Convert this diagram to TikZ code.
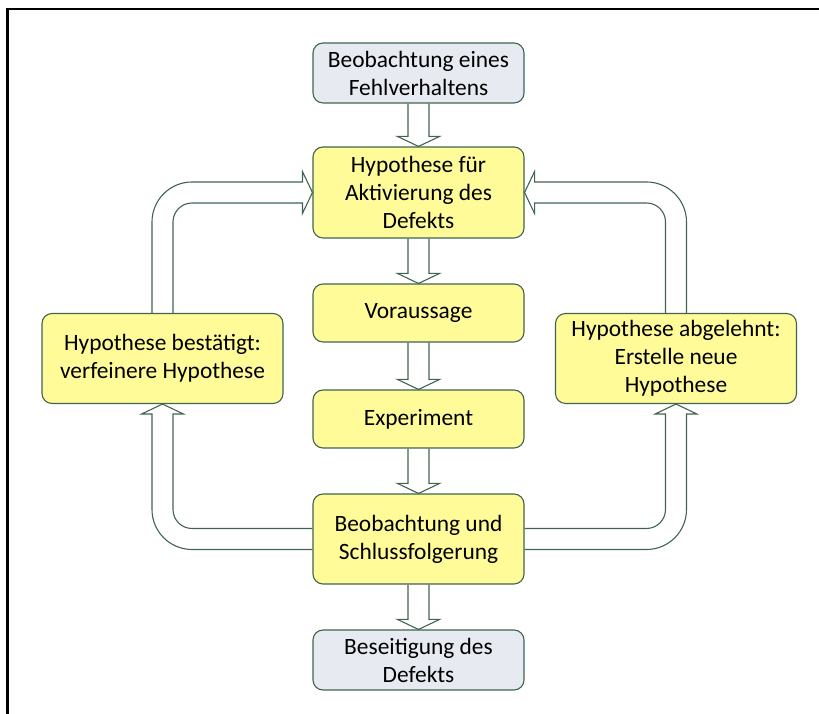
\documentclass[tikz,border=0pt]{standalone}
\usepackage{fontspec}
\setmainfont{Carlito}
\usetikzlibrary{calc}

\definecolor{boxline}{RGB}{64,100,80}
\definecolor{stepfill}{RGB}{255,251,153}
\definecolor{endfill}{RGB}{231,235,241}

\tikzset{
  box/.style={draw=boxline, line width=1.1pt, rounded corners=10pt,
    minimum width=211pt, inner sep=0pt, align=center,
    font=\fontsize{23.4}{28}\selectfont},
  stepbox/.style={box, fill=stepfill},
  endbox/.style={box, fill=endfill},
  sidebox/.style={stepbox, minimum width=241pt, minimum height=90pt},
  blockarrow/.style={draw=boxline, line width=1.1pt, line join=miter},
}

% hollow block arrow pointing down from #1 to #2
\newcommand\flowdown[2]{%
  \draw[blockarrow] let \p1=(#1.south), \p2=(#2.north) in
    (\x1-10.5pt,\y1) -- (\x1-10.5pt,\y2+10pt) -- (\x1-21pt,\y2+10pt) -- (\x1,\y2)
    -- (\x1+21pt,\y2+10pt) -- (\x1+10.5pt,\y2+10pt) -- (\x1+10.5pt,\y1);}

\begin{document}
\begin{tikzpicture}[x=1pt,y=1pt]
\useasboundingbox (0,0) rectangle (819,714);

% frame
\draw[line width=2.4pt, line join=miter] (819,705) -- (7.5,705) -- (7.5,0);

% main column
\node[endbox, minimum height=60pt] (obs) at (418.5,641) {Beobachtung eines\\Fehlverhaltens};
\node[stepbox, minimum height=91pt] (hyp) at (418.5,521.5) {Hypothese für\\Aktivierung des\\Defekts};
\node[stepbox, minimum height=58pt] (pred) at (418.5,401) {Voraussage};
\node[stepbox, minimum height=58pt] (expt) at (418.5,295) {Experiment};
\node[stepbox, minimum height=90pt] (concl) at (418.5,175) {Beobachtung und\\Schlussfolgerung};
\node[endbox, minimum height=60pt] (fix) at (418.5,54) {Beseitigung des\\Defekts};

% side boxes
\node[sidebox] (conf) at (162.5,355.5) {Hypothese bestätigt:\\verfeinere Hypothese};
\node[sidebox] (rej) at (676,355.5) {Hypothese abgelehnt:\\Erstelle neue\\Hypothese};

% straight arrows
\flowdown{obs}{hyp}
\flowdown{hyp}{pred}
\flowdown{pred}{expt}
\flowdown{expt}{concl}
\flowdown{concl}{fix}

% confirmed -> hypothesis
\draw[blockarrow] let \p1=(conf.north), \p2=(hyp.west) in
  (\x1-10.5pt,\y1) -- (\x1-10.5pt,\y2-29.5pt)
  .. controls (\x1-10.5pt,\y2-7.4pt) and (\x1+7.4pt,\y2+10.5pt) .. (\x1+29.5pt,\y2+10.5pt)
  -- (\x2-10pt,\y2+10.5pt) -- (\x2-10pt,\y2+21pt) -- (\x2,\y2) -- (\x2-10pt,\y2-21pt) -- (\x2-10pt,\y2-10.5pt)
  -- (\x1+29.5pt,\y2-10.5pt)
  .. controls (\x1+19pt,\y2-10.5pt) and (\x1+10.5pt,\y2-19pt) .. (\x1+10.5pt,\y2-29.5pt)
  -- (\x1+10.5pt,\y1);

% rejected -> hypothesis
\draw[blockarrow] let \p1=(rej.north), \p2=(hyp.east) in
  (\x1+10.5pt,\y1) -- (\x1+10.5pt,\y2-29.5pt)
  .. controls (\x1+10.5pt,\y2-7.4pt) and (\x1-7.4pt,\y2+10.5pt) .. (\x1-29.5pt,\y2+10.5pt)
  -- (\x2+10pt,\y2+10.5pt) -- (\x2+10pt,\y2+21pt) -- (\x2,\y2) -- (\x2+10pt,\y2-21pt) -- (\x2+10pt,\y2-10.5pt)
  -- (\x1-29.5pt,\y2-10.5pt)
  .. controls (\x1-19pt,\y2-10.5pt) and (\x1-10.5pt,\y2-19pt) .. (\x1-10.5pt,\y2-29.5pt)
  -- (\x1-10.5pt,\y1);

% conclusion -> confirmed
\draw[blockarrow] let \p1=(concl.west), \p2=(conf.south) in
  (\x1,\y1-10.5pt) -- (\x2+29.5pt,\y1-10.5pt)
  .. controls (\x2+7.4pt,\y1-10.5pt) and (\x2-10.5pt,\y1+7.4pt) .. (\x2-10.5pt,\y1+29.5pt)
  -- (\x2-10.5pt,\y2-10pt) -- (\x2-21pt,\y2-10pt) -- (\x2,\y2) -- (\x2+21pt,\y2-10pt) -- (\x2+10.5pt,\y2-10pt)
  -- (\x2+10.5pt,\y1+29.5pt)
  .. controls (\x2+10.5pt,\y1+19pt) and (\x2+19pt,\y1+10.5pt) .. (\x2+29.5pt,\y1+10.5pt)
  -- (\x1,\y1+10.5pt);

% conclusion -> rejected
\draw[blockarrow] let \p1=(concl.east), \p2=(rej.south) in
  (\x1,\y1-10.5pt) -- (\x2-29.5pt,\y1-10.5pt)
  .. controls (\x2-7.4pt,\y1-10.5pt) and (\x2+10.5pt,\y1+7.4pt) .. (\x2+10.5pt,\y1+29.5pt)
  -- (\x2+10.5pt,\y2-10pt) -- (\x2+21pt,\y2-10pt) -- (\x2,\y2) -- (\x2-21pt,\y2-10pt) -- (\x2-10.5pt,\y2-10pt)
  -- (\x2-10.5pt,\y1+29.5pt)
  .. controls (\x2-10.5pt,\y1+19pt) and (\x2-19pt,\y1+10.5pt) .. (\x2-29.5pt,\y1+10.5pt)
  -- (\x1,\y1+10.5pt);
\end{tikzpicture}
\end{document}
